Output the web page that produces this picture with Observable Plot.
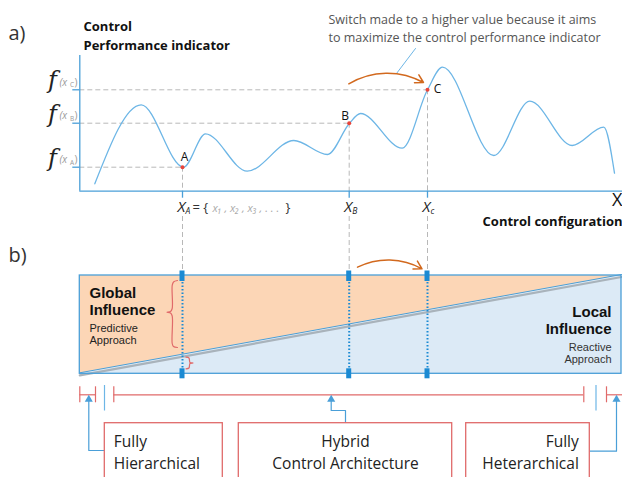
<!DOCTYPE html>
<html>
<head>
<meta charset="utf-8">
<script src="https://cdn.jsdelivr.net/npm/d3@7"></script>
<script src="https://cdn.jsdelivr.net/npm/@observablehq/plot@0.6"></script>
<style>
html,body{margin:0;padding:0;background:#fff;}
#chart svg{display:block;}
</style>
</head>
<body>
<div id="chart"></div>
<script>
// ---- Data (diagram units) ----
const curveConfig = [94.3, 140.7, 183, 205, 246.7, 293.3, 327, 349, 360, 401.7, 427, 442, 493.3, 529.3, 571.7, 603.3, 614];
const curvePerf   = [183.3, 104.3, 166.7, 133.3, 170.7, 140, 154, 122.7, 113, 147.7, 89.3, 66.7, 155, 100.7, 145, 126.7, 172.7];
const pointNames  = ["A", "B", "C"];
const pointConfig = [182, 348.7, 427];
const pointPerf   = [166.7, 122.7, 89.3];
const axisOrigin  = [79.3, 190.7];
const axisTop     = 55;
const axisRight   = 622;
const boxLeft = 79.3, boxRight = 621, boxTop = 275, boxBottom = 373.3;
const scaleY = 394.3;
const scaleSegments = [[79.3, 95], [113.3, 583.3], [606, 622]];
const scaleCaps = [79.3, 95, 113.3, 583.3, 606];
const scaleBreaks = [104, 595.5];
const archNames = [["Fully", "Hierarchical"], ["Hybrid", "Control Architecture"], ["Fully", "Heterarchical"]];
const archBoxes = [[104.3, 222.3], [238.3, 451.7], [465.7, 589.3]];

const blue = "#4a9fd8", curveBlue = "#6db6e6", red = "#e06a6a", orange = "#d2691e", grey = "#b8b8b8";
const font = "Open Sans, Segoe UI, sans-serif";
const tight = "Liberation Sans, Arial, sans-serif";

const curve = curveConfig.map((x, i) => ({x, y: curvePerf[i]}));
const pts = pointNames.map((n, i) => ({n, x: pointConfig[i], y: pointPerf[i]}));
const diag = [{x: boxLeft, yd: boxBottom}, {x: boxRight, yd: boxTop}];

const T = (data, o) => Plot.text(data, {fontFamily: font, ...o});
const archText = (i, x, anchor) => T([archNames[i].join("\n")], {x, y: 450.5, text: d => d, lineHeight: 22 / 15.5, fontSize: 15.5, textAnchor: anchor, fill: "#222"});

const marks = [
  // ---- part b fills ----
  Plot.areaY(diag, {x: "x", y1: boxTop, y2: "yd", fill: "#fcd6b6"}),
  Plot.areaY(diag, {x: "x", y1: "yd", y2: boxBottom, fill: "#dceaf6"}),
  Plot.line(diag, {x: "x", y: d => d.yd + 1.5, stroke: "#a9b3bb", strokeWidth: 2.2}),
  Plot.line(diag, {x: "x", y: d => d.yd - 1, stroke: blue, strokeWidth: 1}),
  Plot.rect([0], {x1: boxLeft, x2: boxRight, y1: boxTop, y2: boxBottom, fill: "none", stroke: blue, strokeWidth: 1.3}),

  // ---- dashed guides ----
  Plot.ruleY(pts, {y: "y", x1: axisOrigin[0], x2: "x", stroke: grey, strokeDasharray: "5,3"}),
  Plot.ruleX(pts, {x: "x", y1: "y", y2: axisOrigin[1], stroke: grey, strokeDasharray: "5,3"}),
  Plot.ruleX(pts, {x: "x", y1: 216, y2: boxTop - 4, stroke: grey, strokeDasharray: "5,3"}),

  // ---- part a axes ----
  Plot.ruleX([axisOrigin[0]], {y1: axisTop, y2: axisOrigin[1], stroke: blue, strokeWidth: 1.3}),
  Plot.ruleY([axisOrigin[1]], {x1: axisOrigin[0], x2: axisRight, stroke: blue, strokeWidth: 1.3}),
  Plot.ruleY(pts, {y: "y", x1: axisOrigin[0] - 7, x2: axisOrigin[0], stroke: blue, strokeWidth: 1.3}),
  Plot.ruleX(pts, {x: "x", y1: axisOrigin[1], y2: axisOrigin[1] + 7, stroke: blue, strokeWidth: 1.3}),

  // ---- curve ----
  Plot.line(curve, {x: "x", y: "y", curve: "monotone-x", stroke: curveBlue, strokeWidth: 1.3}),
  Plot.dot(pts, {x: "x", y: "y", r: 2, fill: "#e8443a"}),
  T(pts, {x: d => d.n === "A" ? d.x + 2 : d.n === "B" ? d.x - 4 : d.x + 10, y: d => d.n === "A" ? d.y - 10 : d.n === "B" ? d.y - 7 : d.y - 1, text: "n", fontSize: 12, fill: "#111"}),

  // y tick labels f(x_)
  T(pts, {x: 52, y: d => d.y - 9, text: () => "f", fontSize: 24, fontStyle: "italic", fontFamily: "DejaVu Serif, serif", fill: "#222"}),
  T(pts, {x: 59, y: d => d.y - 7, text: () => "(x", fontSize: 10, fontStyle: "italic", textAnchor: "start", fill: "#999"}),
  T(pts, {x: 69.5, y: d => d.y - 4.5, text: d => d.n, fontSize: 6.5, textAnchor: "start", fill: "#999"}),
  T(pts, {x: 74, y: d => d.y - 7, text: () => ")", fontSize: 10, textAnchor: "start", fill: "#999"}),

  // x tick labels
  T(pts, {x: d => d.x - 5, y: 207, text: () => "X", fontSize: 15, fontStyle: "italic", textAnchor: "start", fill: "#222"}),
  T(pts, {x: d => d.x + 3, y: 211, text: d => d.n === "C" ? "c" : d.n, fontSize: 8.5, fontStyle: "italic", textAnchor: "start", fill: "#222"}),
  T([0], {x: 192, y: 207, text: () => "= {", fontSize: 13, textAnchor: "start", fill: "#333"}),
  T([0], {x: 212, y: 208, text: () => "x\u2081 , x\u2082 , x\u2083 , . . .", fontSize: 11, fontStyle: "italic", textAnchor: "start", fill: "#aaa"}),
  T([0], {x: 285, y: 207, text: () => "}", fontSize: 13, textAnchor: "start", fill: "#333"}),

  // titles
  T([0], {x: 8, y: 33, text: () => "a)", fontSize: 20, textAnchor: "start", fill: "#333"}),
  T([0], {x: 8, y: 255, text: () => "b)", fontSize: 20, textAnchor: "start", fill: "#333"}),
  T([0], {x: 83, y: 34, text: () => "Control\nPerformance indicator", lineHeight: 19 / 13, fontSize: 13, fontWeight: "bold", textAnchor: "start", fill: "#111"}),
  T([0], {x: 622, y: 221.5, text: () => "Control configuration", fontSize: 13, fontWeight: "bold", textAnchor: "end", fill: "#111"}),
  T([0], {x: 622, y: 200, text: () => "X", fontSize: 18, textAnchor: "end", fill: "#111"}),
  T([0], {x: 328, y: 27, text: () => "Switch made to a higher value because it aims\nto maximize the control performance indicator", lineHeight: 18 / 12.5, fontSize: 12.5, textAnchor: "start", fill: "#555"}),

  // annotation leader + switch arrows
  Plot.line([{x: 415, y: 48}, {x: 396, y: 73}], {x: "x", y: "y", stroke: curveBlue, strokeWidth: 1}),
  Plot.arrow([0], {x1: 348.3, y1: 83.3, x2: 423, y2: 82, bend: 30, stroke: orange, strokeWidth: 1.5, headLength: 9}),
  Plot.arrow([0], {x1: 357, y1: 266.7, x2: 421.5, y2: 268.3, bend: 28, stroke: orange, strokeWidth: 1.5, headLength: 9}),

  // part b markers
  Plot.ruleX(pts, {x: "x", y1: boxTop, y2: boxBottom, stroke: "#1b8ad3", strokeWidth: 2, strokeDasharray: "1.5,2"}),
  Plot.rect(pts, {x1: d => d.x - 2.5, x2: d => d.x + 2.5, y1: boxTop - 4.5, y2: boxTop + 6, fill: "#1b8ad3"}),
  Plot.rect(pts, {x1: d => d.x - 2.5, x2: d => d.x + 2.5, y1: boxBottom - 5, y2: boxBottom + 5, fill: "#1b8ad3"}),

  // braces
  Plot.line([[177, 280], [173, 281.5], [171.7, 285], [171.7, 308], [170, 311], [166.5, 311.8], [170, 312.6], [171.7, 315.5], [171.7, 343], [173, 346], [177, 347]],
    {x: d => d[0], y: d => d[1], stroke: red, strokeWidth: 1.2, curve: "catmull-rom"}),
  Plot.line([[185.5, 356.7], [188.5, 357.5], [189, 360], [189.5, 362], [192.5, 362.5], [189.5, 363], [189, 365], [188.5, 367.5], [185.5, 368.3]],
    {x: d => d[0], y: d => d[1], stroke: red, strokeWidth: 1.2, curve: "catmull-rom"}),

  // part b texts
  T([0], {x: 89, y: 300.5, text: () => "Global\nInfluence", lineHeight: 17 / 15, fontSize: 15, fontWeight: "bold", fontFamily: tight, textAnchor: "start", fill: "#111"}),
  T([0], {x: 89, y: 333.5, text: () => "Predictive\nApproach", lineHeight: 12.5 / 11, fontSize: 11, fontFamily: tight, textAnchor: "start", fill: "#222"}),
  T([0], {x: 611, y: 319.5, text: () => "Local\nInfluence", lineHeight: 17 / 15, fontSize: 15, fontWeight: "bold", fontFamily: tight, textAnchor: "end", fill: "#111"}),
  T([0], {x: 611, y: 352.5, text: () => "Reactive\nApproach", lineHeight: 12.5 / 11, fontSize: 11, fontFamily: tight, textAnchor: "end", fill: "#333"}),

  // scale bar
  Plot.ruleY(scaleSegments, {y: scaleY, x1: d => d[0], x2: d => d[1], stroke: red, strokeWidth: 1.2}),
  Plot.ruleX(scaleCaps, {x: d => d, y1: scaleY - 8, y2: scaleY + 8, stroke: red, strokeWidth: 1.2}),
  Plot.ruleX(scaleBreaks, {x: d => d, y1: 385, y2: 410.5, stroke: curveBlue, strokeWidth: 1.2}),

  // connectors
  Plot.line([[104.3, 450], [88.3, 450], [88.3, 399]], {x: d => d[0], y: d => d[1], stroke: blue, strokeWidth: 1.2}),
  Plot.line([[345, 423], [345, 410], [330.7, 410], [330.7, 399]], {x: d => d[0], y: d => d[1], stroke: blue, strokeWidth: 1.2}),
  Plot.line([[589.3, 450.7], [616, 450.7], [616, 399]], {x: d => d[0], y: d => d[1], stroke: blue, strokeWidth: 1.2}),
  Plot.dot([88.3, 330.7, 616], {x: d => d, y: 399, symbol: "triangle", r: 3, fill: blue}),

  // architecture boxes
  Plot.rect(archBoxes, {x1: d => d[0], x2: d => d[1], y1: 422.7, y2: 490, fill: "white", stroke: red, strokeWidth: 1.3}),
  archText(0, archBoxes[0][0] + 9, "start"),
  archText(1, (archBoxes[1][0] + archBoxes[1][1]) / 2, "middle"),
  archText(2, archBoxes[2][1] - 11, "end")
];

const chart = Plot.plot({
  width: 622, height: 477, margin: 0,
  x: {domain: [0, 622], range: [0, 622], axis: null},
  y: {domain: [0, 477], range: [0, 477], axis: null},
  style: {background: "white", overflow: "hidden"},
  marks
});
document.getElementById("chart").appendChild(chart);
</script>
</body>
</html>
